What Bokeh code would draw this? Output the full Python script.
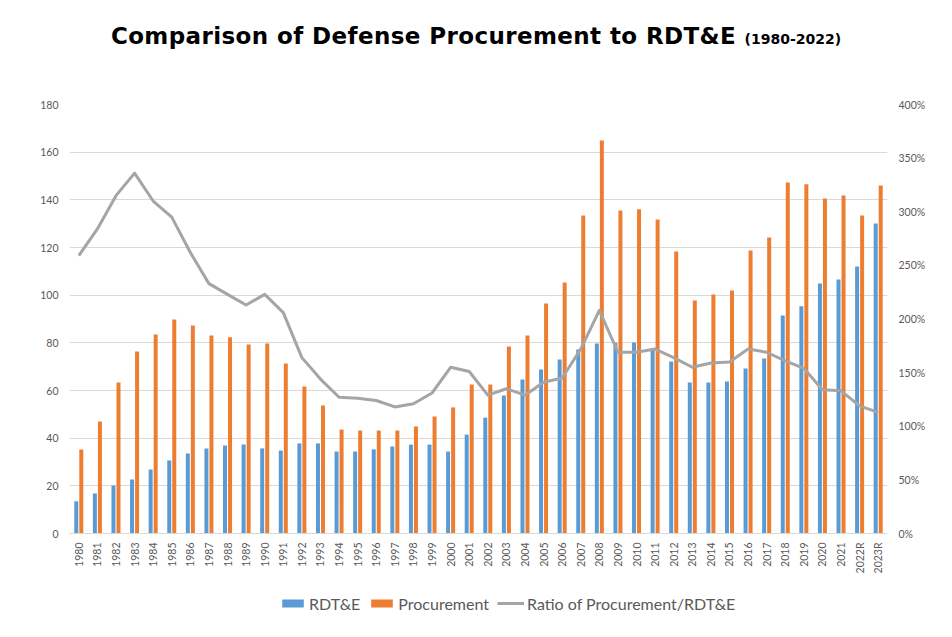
from bokeh.embed import file_html
from bokeh.resources import INLINE
from bokeh.layouts import column
from bokeh.models import (ColumnDataSource, Div, FactorRange, FixedTicker, Legend,
                          LegendItem, LinearAxis, NumeralTickFormatter, Range1d)
from bokeh.plotting import figure
from bokeh.transform import dodge

years = ["1980", "1981", "1982", "1983", "1984", "1985", "1986", "1987", "1988", "1989",
         "1990", "1991", "1992", "1993", "1994", "1995", "1996", "1997", "1998", "1999",
         "2000", "2001", "2002", "2003", "2004", "2005", "2006", "2007", "2008", "2009",
         "2010", "2011", "2012", "2013", "2014", "2015", "2016", "2017", "2018", "2019",
         "2020", "2021", "2022R", "2023R"]

rdte = [13.5, 16.8, 20.1, 22.7, 26.9, 30.6, 33.6, 35.7, 36.9, 37.3,
        35.7, 34.8, 37.8, 37.8, 34.4, 34.4, 35.3, 36.5, 37.3, 37.3,
        34.4, 41.5, 48.6, 57.9, 64.6, 68.8, 73.0, 77.2, 79.7, 80.0,
        80.1, 77.5, 72.2, 63.4, 63.4, 63.8, 69.2, 73.4, 91.5, 95.3,
        104.9, 106.6, 112.0, 130.1]

procurement = [35.2, 47.0, 63.4, 76.4, 83.5, 89.8, 87.3, 83.1, 82.3, 79.3,
               79.7, 71.3, 61.7, 53.7, 43.6, 43.2, 43.2, 43.2, 44.9, 49.1,
               52.9, 62.5, 62.5, 78.5, 83.1, 96.5, 105.3, 133.4, 164.9, 135.5,
               136.0, 131.8, 118.3, 97.8, 100.3, 102.0, 118.7, 124.2, 147.3, 146.5,
               140.6, 141.8, 133.4, 146.0]

# ratio of procurement to RDT&E (1.0 = 100%)
ratio = [2.59, 2.84, 3.15, 3.36, 3.10, 2.95, 2.62, 2.33, 2.23, 2.13,
         2.23, 2.06, 1.64, 1.44, 1.27, 1.26, 1.24, 1.18, 1.21, 1.31,
         1.55, 1.51, 1.29, 1.35, 1.29, 1.41, 1.45, 1.72, 2.08, 1.69,
         1.69, 1.72, 1.64, 1.55, 1.59, 1.60, 1.72, 1.69, 1.61, 1.54,
         1.34, 1.33, 1.19, 1.13]

left_ticks = [0, 20, 40, 60, 80, 100, 120, 140, 160, 180]
right_ticks = [0, 0.5, 1.0, 1.5, 2.0, 2.5, 3.0, 3.5, 4.0]

BLUE = "#5B9BD5"
ORANGE = "#ED7D31"
GRAY = "#A5A5A5"
TEXT = "#595959"
FONT = "Lato"

source = ColumnDataSource(dict(year=years, rdte=rdte, proc=procurement, ratio=ratio))

# Div keeps its default 5px margin on every side
title = Div(
    text=(
        '<div style="width:942px; text-align:center; padding-top:15px; white-space:nowrap; '
        'font-family:\'DejaVu Sans\', sans-serif; font-weight:bold; color:#000;">'
        '<span style="font-size:23px; letter-spacing:0.4px;">'
        'Comparison of Defense Procurement to RDT&amp;E </span>'
        '<span style="font-size:14px;">(1980-2022)</span></div>'
    ),
    width=942, height=43,
)

p = figure(
    x_range=FactorRange(*years), y_range=Range1d(0, 180),
    width=952, height=525,
    min_border_top=51, min_border_bottom=45, min_border_left=69, min_border_right=65,
    output_backend="svg", toolbar_location=None, tools="",
)
p.extra_y_ranges = {"ratio": Range1d(0, 4)}
p.outline_line_color = None
p.background_fill_color = "white"
p.border_fill_color = "white"

blue = p.vbar(x=dodge("year", -0.135, range=p.x_range), top="rdte", width=0.215,
              source=source, fill_color=BLUE, line_color=None)
orange = p.vbar(x=dodge("year", 0.135, range=p.x_range), top="proc", width=0.215,
                source=source, fill_color=ORANGE, line_color=None)
line = p.line(x="year", y="ratio", source=source, y_range_name="ratio",
              line_color=GRAY, line_width=3, line_join="round")

p.xgrid.grid_line_color = None
p.ygrid.grid_line_color = "#D9D9D9"
p.ygrid.grid_line_width = 1

p.yaxis.ticker = FixedTicker(ticks=left_ticks)
p.yaxis.axis_line_color = None
p.yaxis.major_tick_line_color = None
p.yaxis.major_tick_out = 0
p.yaxis.minor_tick_line_color = None
p.yaxis.major_label_standoff = 11
p.yaxis.major_label_text_font = FONT
p.yaxis.major_label_text_font_size = "10.5px"
p.yaxis.major_label_text_color = TEXT

right = LinearAxis(y_range_name="ratio", ticker=FixedTicker(ticks=right_ticks),
                   formatter=NumeralTickFormatter(format="0%"))
right.axis_line_color = None
right.major_tick_line_color = None
right.major_tick_out = 0
right.minor_tick_line_color = None
right.major_label_standoff = 11
right.major_label_text_font = FONT
right.major_label_text_font_size = "10.5px"
right.major_label_text_color = TEXT
p.add_layout(right, "right")

p.xaxis.axis_line_color = "#D9D9D9"
p.xaxis.major_tick_line_color = None
p.xaxis.major_tick_out = 0
p.xaxis.minor_tick_line_color = None
p.xaxis.major_label_orientation = 1.5708
p.xaxis.major_label_standoff = 9
p.xaxis.major_label_text_font = FONT
p.xaxis.major_label_text_font_size = "10.5px"
p.xaxis.major_label_text_color = TEXT

# legend strip under the chart: same series, drawn out of its visible range,
# so only the legend shows
key = figure(width=952, height=57, x_range=FactorRange(*years), y_range=Range1d(1000, 1001),
             x_axis_type=None, y_axis_type=None, min_border=0,
             output_backend="svg", toolbar_location=None, tools="")
key.outline_line_color = None
key.grid.grid_line_color = None
k_blue = key.vbar(x="year", top="rdte", width=0.2, source=source,
                  fill_color=BLUE, line_color=None)
k_orange = key.vbar(x="year", top="proc", width=0.2, source=source,
                    fill_color=ORANGE, line_color=None)
k_line = key.line(x="year", y="ratio", source=source, line_color=GRAY, line_width=3)

legend = Legend(
    items=[LegendItem(label="RDT&E", renderers=[k_blue]),
           LegendItem(label="Procurement", renderers=[k_orange]),
           LegendItem(label="Ratio of Procurement/RDT&E", renderers=[k_line])],
    orientation="horizontal", location=(210, 22),
    padding=0, margin=0, spacing=8, label_standoff=3,
    glyph_width=27, glyph_height=10, label_height=20,
    border_line_color=None, background_fill_alpha=0,
    label_text_font=FONT, label_text_font_size="16px", label_text_color=TEXT,
)
key.add_layout(legend)

layout = column(title, p, key)
open("out.html", "w").write(file_html(layout, INLINE))
